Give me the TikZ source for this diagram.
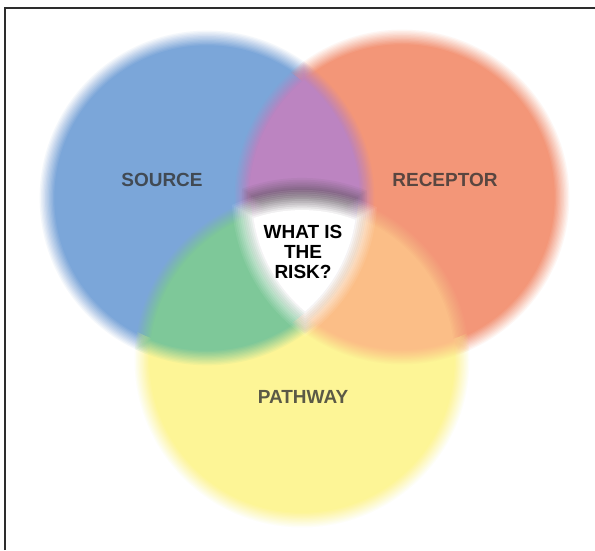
\documentclass[tikz,border=0pt]{standalone}
\usepackage{fontspec}
\setmainfont{Liberation Sans}

% soft-edge machinery: a region is a stack of \vnN nested layers spread
% over 2*\vnbw around its nominal outline; layer m (outermost first) gets
% opacity 1/(N-m+1), which builds a linear ramp from clear to solid
\def\vnN{12}
\def\vnbw{8}

% radius of layer \ia around nominal radius #1, into \vnrad
\newcommand\vnlayer[1]{\pgfmathsetmacro\vnrad{#1+\vnbw-2*\vnbw*(\ia-0.5)/\vnN}}

% one soft disc: centre, radius, colour
\newcommand\vndisk[3]{%
  \foreach \ia in {1,...,\vnN}{%
    \vnlayer{#2}\pgfmathsetmacro\op{1/(\vnN-\ia+1)}%
    \fill[#3,opacity=\op] (#1) circle[radius=\vnrad];
  }}

% soft lens of two discs: centre 1, radius 1, centre 2, radius 2, colour
\newcommand\vnpair[5]{%
  \foreach \ia in {1,...,\vnN}{%
    \pgfmathsetmacro\op{1/(\vnN-\ia+1)}%
    \begin{scope}
      \vnlayer{#2}\clip (#1) circle[radius=\vnrad];
      \vnlayer{#4}\fill[#5,opacity=\op] (#3) circle[radius=\vnrad];
    \end{scope}
  }}

% soft common part of three discs: centres and radii, then colour
\newcommand\vntriple[7]{%
  \foreach \ia in {1,...,\vnN}{%
    \pgfmathsetmacro\op{1/(\vnN-\ia+1)}%
    \begin{scope}
      \vnlayer{#2}\clip (#1) circle[radius=\vnrad];
      \vnlayer{#4}\clip (#3) circle[radius=\vnrad];
      \vnlayer{#6}\fill[#7,opacity=\op] (#5) circle[radius=\vnrad];
    \end{scope}
  }}

% keep painting outside the solid core of a disc: a clockwise outer
% frame around a counter-clockwise circle leaves a hole (nonzero rule)
\newcommand\vnoutside[2]{%
  \clip (-10,-10) -- (-10,560) -- (605,560) -- (605,-10) -- cycle
        (#1) circle[radius=#2-\vnbw-1];}

\definecolor{cblue}{RGB}{123,166,217}
\definecolor{cred}{RGB}{243,150,120}
\definecolor{cyellow}{RGB}{253,245,150}
\definecolor{cpurple}{RGB}{188,132,193}
\definecolor{cgreen}{RGB}{126,200,153}
\definecolor{corange}{RGB}{251,190,135}
\definecolor{cshade}{RGB}{98,84,96}
\definecolor{cframe}{RGB}{45,45,45}

\begin{document}
\begin{tikzpicture}[x=1pt,y=1pt,
  lbl/.style={font=\bfseries\fontsize{19}{19.7}\selectfont, text=black!80, text opacity=0.8, inner sep=0pt},
  risk/.style={font=\bfseries\fontsize{19}{19.7}\selectfont, text=black, align=center, inner sep=0pt}]
\useasboundingbox (0,0) rectangle (595,550);
\fill[white] (0,0) rectangle (595,550);

\coordinate (src-c) at (207,352);
\coordinate (rec-c) at (402,353);
\coordinate (pth-c) at (302,190);
\coordinate (shd-c) at (302,202);

% single circles
\vndisk{src-c}{160}{cblue}
\begin{scope}
  \vnoutside{src-c}{160}
  \vndisk{rec-c}{160}{cred}
\end{scope}
\begin{scope}
  \vnoutside{src-c}{160}
  \vnoutside{rec-c}{160}
  \vndisk{pth-c}{160}{cyellow}
\end{scope}

% pairwise overlaps
\vnpair{src-c}{160}{rec-c}{160}{cpurple}
\begin{scope}
  \vnoutside{rec-c}{160}
  \vnpair{src-c}{160}{pth-c}{160}{cgreen}
\end{scope}
\begin{scope}
  \vnoutside{src-c}{160}
  \vnpair{rec-c}{160}{pth-c}{160}{corange}
\end{scope}

% centre: a soft shadow along the top, then the white core
\begingroup
\def\vnbw{11}
\vntriple{src-c}{150}{rec-c}{150}{shd-c}{160}{cshade}
\vntriple{src-c}{160}{rec-c}{160}{pth-c}{160}{white}
\endgroup

% labels
\node[lbl] (source) at (162,370) {SOURCE};
\node[lbl] (receptor) at (445,370) {RECEPTOR};
\node[lbl] (pathway) at (303,153) {PATHWAY};
\node[risk] (risk) at (303,298) {WHAT IS\\THE\\RISK?};

% frame
\draw[cframe, line width=2pt] (4.8,0) -- (4.8,541.8) -- (595,541.8);
\end{tikzpicture}
\end{document}
